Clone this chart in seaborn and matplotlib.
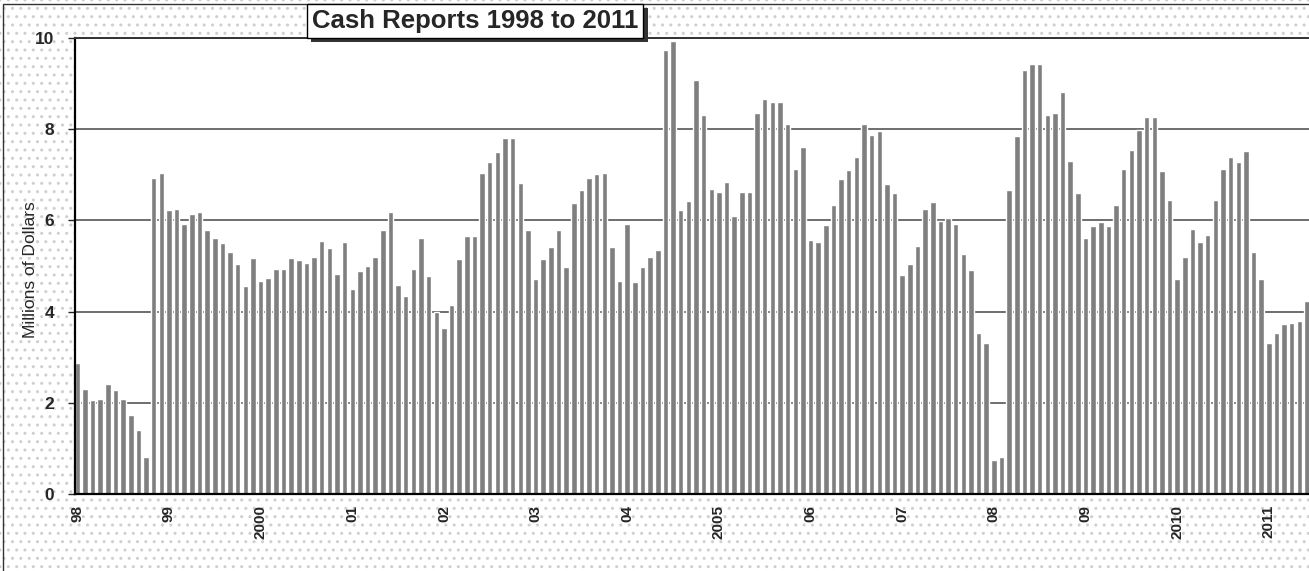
import pandas as pd
import matplotlib.pyplot as plt
import matplotlib.patheffects as pe
from matplotlib.patches import Rectangle
import seaborn as sns

# monthly cash reports, millions of dollars
v1998 = [2.88, 2.30, 2.06, 2.08, 2.41, 2.28, 2.08, 1.74, 1.40, 0.80, 6.93, 7.04]
v1999 = [6.23, 6.26, 5.93, 6.13, 6.18, 5.79, 5.61, 5.50, 5.31, 5.05, 4.56, 5.17]
v2000 = [4.66, 4.74, 4.94, 4.94, 5.18, 5.12, 5.07, 5.20, 5.55, 5.39, 4.83, 5.53]
v2001 = [4.50, 4.88, 5.01, 5.20, 5.79, 6.18, 4.58, 4.34, 4.93, 5.62, 4.77, 4.00]
v2002 = [3.63, 4.14, 5.15, 5.66, 5.66, 7.03, 7.28, 7.50, 7.80, 7.80, 6.82, 5.78]
v2003 = [4.72, 5.16, 5.42, 5.78, 4.98, 6.39, 6.66, 6.92, 7.02, 7.04, 5.42, 4.66]
v2004 = [5.93, 4.64, 4.98, 5.20, 5.36, 9.73, 9.93, 6.23, 6.42, 9.07, 8.30, 6.68]
v2005 = [6.63, 6.85, 6.09, 6.63, 6.63, 8.36, 8.66, 8.59, 8.59, 8.12, 7.13, 7.61]
v2006 = [5.57, 5.53, 5.90, 6.34, 6.90, 7.11, 7.39, 8.12, 7.88, 7.97, 6.79, 6.59]
v2007 = [4.80, 5.05, 5.44, 6.24, 6.41, 5.99, 6.06, 5.93, 5.26, 4.91, 3.52, 3.31]
v2008 = [0.74, 0.82, 6.66, 7.86, 9.29, 9.43, 9.43, 8.32, 8.36, 8.81, 7.31, 6.61]
v2009 = [5.62, 5.88, 5.97, 5.88, 6.33, 7.12, 7.55, 7.98, 8.27, 8.27, 7.08, 6.44]
v2010 = [4.71, 5.20, 5.82, 5.53, 5.67, 6.44, 7.12, 7.39, 7.28, 7.53, 5.31, 4.72]
v2011 = [3.30, 3.54, 3.72, 3.76, 3.80, 4.23]

year_labels = ["98", "99", "2000", "01", "02", "03", "04", "2005",
               "06", "07", "08", "09", "2010", "2011"]

cash = (v1998 + v1999 + v2000 + v2001 + v2002 + v2003 + v2004 + v2005
        + v2006 + v2007 + v2008 + v2009 + v2010 + v2011)
months = pd.date_range("1998-01-01", periods=len(cash), freq="MS")
df = pd.DataFrame({"month": months.strftime("%Y-%m"), "cash": cash})

sns.set_style("white")
plt.rcParams["font.family"] = ["Liberation Sans", "DejaVu Sans"]

fig = plt.figure(figsize=(13.09, 5.71), dpi=100)
fig.patch.set_facecolor("white")

# stippled background + frame
bg = Rectangle((0, 0), 1, 1, transform=fig.transFigure, facecolor="white",
               edgecolor="#cfcfcf", hatch="..", linewidth=0, zorder=-10)
fig.patches.append(bg)
fig.patches.append(Rectangle((0.0025, -0.1), 1.2, 1.093, transform=fig.transFigure,
                             fill=False, edgecolor="#333333", linewidth=1.0, zorder=-5))

ax = fig.add_axes([0.0573, 0.1349, 0.9427, 0.7986])
ax.set_facecolor("white")

sns.barplot(data=df, x="month", y="cash", color="#7f7f7f", saturation=1,
            width=0.72, ax=ax)

ax.set_ylim(0, 10)
ax.set_xlim(-0.3, len(cash) - 0.74)
ax.set_yticks([0, 2, 4, 6, 8, 10])
ax.set_yticklabels(["0", "2", "4", "6", "8", "10"], fontsize=12.5, fontweight="bold")
ax.yaxis.grid(True, color="#555555", linewidth=1.2)
ax.set_axisbelow(True)

ticks = list(range(len(cash)))
labels = [""] * len(cash)
for i, lab in enumerate(year_labels):
    labels[i * 12] = lab
ax.set_xticks(ticks)
ax.set_xticklabels(labels, rotation=90, fontsize=11, fontweight="bold", va="top")
ax.tick_params(axis="x", length=3, width=0.8, direction="out", pad=5)
ax.tick_params(axis="y", length=5, width=1, direction="out", pad=10, left=True)

ax.set_xlabel("")
ax.set_ylabel("Millions of Dollars", fontsize=12.5)
ax.yaxis.set_label_coords(-0.030, 0.493)

ax.spines["right"].set_visible(False)
ax.spines["left"].set_color("black")
ax.spines["left"].set_linewidth(1.6)
ax.spines["bottom"].set_color("black")
ax.spines["bottom"].set_linewidth(1.6)
ax.spines["top"].set_color("#333333")
ax.spines["top"].set_linewidth(1.4)

t = fig.text(0.363, 0.963, "Cash Reports 1998 to 2011", fontsize=18.5,
             fontweight="bold", ha="center", va="center",
             bbox=dict(boxstyle="square,pad=0.2", facecolor="white",
                       edgecolor="black", linewidth=1.0))
t.get_bbox_patch().set_path_effects([
    pe.SimplePatchShadow(offset=(3, -3), shadow_rgbFace="#333333", alpha=1.0),
    pe.Normal()])

fig.savefig("out.png", dpi=100)
